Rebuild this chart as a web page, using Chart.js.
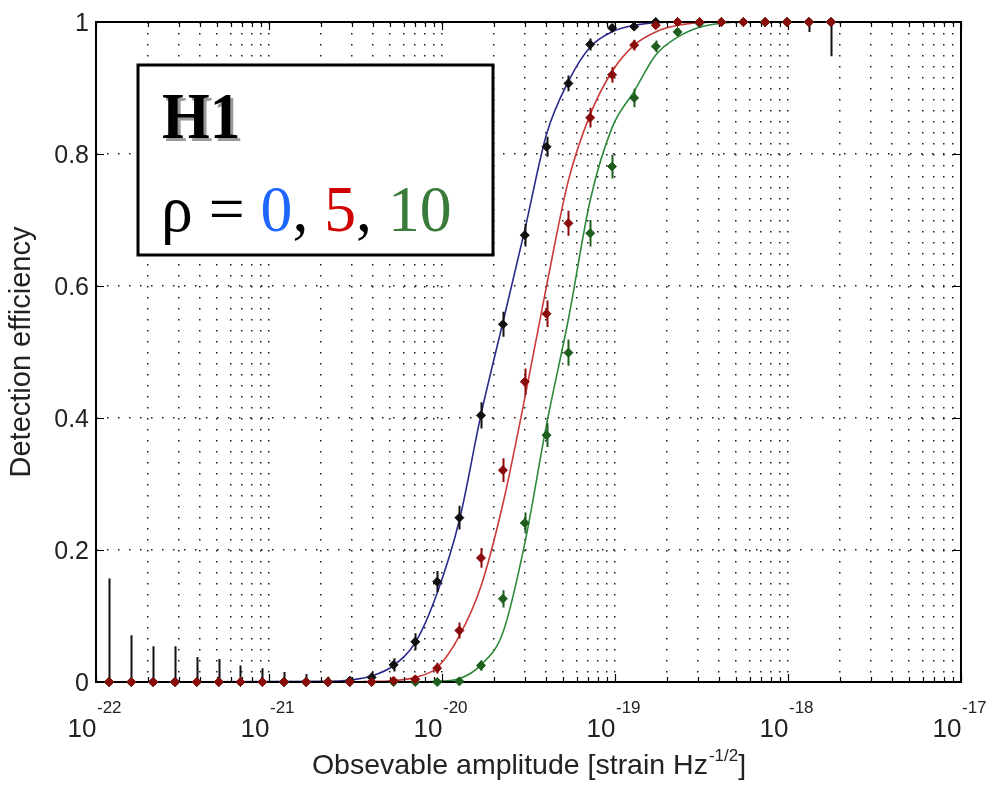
<!DOCTYPE html>
<html><head><meta charset="utf-8">
<script src="https://cdn.jsdelivr.net/npm/chart.js@4.4.0/dist/chart.umd.min.js"></script>
<style>html,body{margin:0;padding:0;background:#fff;}#wrap{width:993px;height:787px;}</style>
</head><body><div id="wrap"><canvas id="c" width="993" height="787"></canvas></div>
<script>
// ---------------- data ----------------
const amplitudes = [1.19e-22,1.60e-22,2.14e-22,2.86e-22,3.82e-22,5.12e-22,6.84e-22,9.16e-22,1.22e-21,1.64e-21,
  2.19e-21,2.93e-21,3.92e-21,5.25e-21,7.01e-21,9.38e-21,1.26e-20,1.68e-20,2.25e-20,3.01e-20,
  4.02e-20,5.38e-20,7.19e-20,9.62e-20,1.29e-19,1.72e-19,2.30e-19,3.08e-19,4.12e-19,5.52e-19,
  7.38e-19,9.87e-19,1.32e-18,1.77e-18];
const effRho0 = [0,0,0,0,0,0,0,0,0,0,0,0.002,0.007,0.026,0.061,0.152,0.249,0.404,0.542,0.677,0.811,0.907,0.966,0.991,0.993,1,1,1,1,1,1,1,1,1];
const errRho0 = [0.157,0.071,0.054,0.054,0.038,0.035,0.025,0.021,0.015,0.012,0.008,0.006,0.008,0.01,0.013,0.016,0.018,0.02,0.019,0.017,0.015,0.012,0.009,0.006,0.004,0.002,0,0,0,0,0,0.007,0.015,0.052];
const effRho5 = [0,0,0,0,0,0,0,0,0,0,0,0,0,0.002,0.004,0.021,0.078,0.188,0.321,0.455,0.558,0.695,0.855,0.92,0.965,0.995,1,1,1,1,1,1,1,1];
const errRho5 = [0,0,0,0,0,0,0,0,0,0,0,0,0,0.002,0.004,0.008,0.012,0.015,0.018,0.02,0.02,0.019,0.015,0.012,0.008,0.004,0,0,0,0,0,0,0,0];
const effRho10 = [0,0,0,0,0,0,0,0,0,0,0,0,0,0,0,0,0.001,0.025,0.126,0.241,0.374,0.499,0.68,0.781,0.885,0.963,0.985,0.998,1,1,1,1,1,1];
const errRho10 = [0,0,0,0,0,0,0,0,0,0,0,0,0,0,0,0,0.002,0.008,0.013,0.016,0.018,0.02,0.02,0.018,0.014,0.009,0.005,0.002,0,0,0,0,0,0];

const fitAmplitudes = [1e-22,2.19e-21,2.93e-21,3.92e-21,5.25e-21,7.01e-21,9.38e-21,1.26e-20,1.68e-20,2.25e-20,3.01e-20,
  4.02e-20,5.38e-20,7.19e-20,9.62e-20,1.29e-19,1.72e-19,2.30e-19,3.08e-19,4.12e-19,5.52e-19,1e-17];
const fitRho0  = [0,0.001,0.003,0.009,0.025,0.06,0.135,0.245,0.405,0.545,0.685,0.83,0.91,0.962,0.985,0.995,0.999,1,1,1,1,1];
const fitRho5  = [0,0,0,0.001,0.002,0.007,0.022,0.07,0.145,0.27,0.43,0.6,0.76,0.86,0.925,0.965,0.985,0.995,0.999,1,1,1];
const fitRho10 = [0,0,0,0,0,0,0.001,0.005,0.026,0.075,0.21,0.39,0.55,0.73,0.84,0.895,0.95,0.977,0.992,0.998,1,1];

const xDecades = [1e-22,1e-21,1e-20,1e-19,1e-18,1e-17];
const xDecadeLabels = ['10','10','10','10','10','10'];
const xDecadeExponents = ['-22','-21','-20','-19','-18','-17'];
const xMinorMultipliers = [2,3,4,5,6,7,8,9];
const yTicks = [0,0.2,0.4,0.6,0.8,1];
const yTickLabels = ['0','0.2','0.4','0.6','0.8','1'];
const yTitle = 'Detection efficiency';
const xTitleMain = 'Obsevable amplitude [strain Hz';
const xTitleSup = '-1/2';
const xTitleEnd = ']';
const boxTitle = 'H1';
const boxPieces = [['ρ = ','#000'],['0','#1f66ff'],[', ','#000'],['5','#d00000'],[', ','#000'],['10','#3a7a3a']];

// ---------------- helpers ----------------
const pts = (xs, ys) => xs.map((x, i) => ({x: x, y: ys[i]}));
const xGridValues = [];
xDecades.forEach((d, k) => {
  xGridValues.push({value: d, major: true});
  if (k < xDecades.length - 1) xMinorMultipliers.forEach(m => xGridValues.push({value: d * m, major: false}));
});
const SANS = '"Liberation Sans", Arial, Helvetica, sans-serif';
const SERIF = '"Liberation Serif", "Times New Roman", serif';

function drawFrame(chart) {
  const {ctx, chartArea: a, scales: {x, y}} = chart;
  ctx.save();
  ctx.strokeStyle = '#000';
  ctx.lineWidth = 1.2;
  ctx.beginPath();
  x.ticks.forEach(t => {
    const px = Math.round(x.getPixelForValue(t.value)) + 0.5;
    const len = t.major ? 8 : 5;
    ctx.moveTo(px, a.bottom); ctx.lineTo(px, a.bottom - len);
    ctx.moveTo(px, a.top); ctx.lineTo(px, a.top + len);
  });
  y.ticks.forEach(t => {
    const py = Math.round(y.getPixelForValue(t.value)) + 0.5;
    ctx.moveTo(a.left, py); ctx.lineTo(a.left + 8, py);
    ctx.moveTo(a.right, py); ctx.lineTo(a.right - 8, py);
  });
  ctx.stroke();
  ctx.lineWidth = 2;
  ctx.strokeRect(a.left, a.top, a.right - a.left, a.bottom - a.top);
  ctx.restore();
}

const framePlugin = {
  id: 'frame',
  afterDatasetDraw(chart, args) {
    const ds = chart.data.datasets[args.index];
    if (ds.frameAfter) drawFrame(chart);
    if (!ds.errors) return;
    const {ctx, scales: {x, y}} = chart;
    ctx.save();
    ctx.strokeStyle = ds.borderColor;
    ctx.lineWidth = 2;
    ctx.beginPath();
    ds.data.forEach((p, i) => {
      const e = ds.errors[i];
      if (!e) return;
      const px = Math.round(x.getPixelForValue(p.x)) + 0.5;
      ctx.moveTo(px, y.getPixelForValue(Math.max(0, p.y - e)));
      ctx.lineTo(px, y.getPixelForValue(Math.min(1, p.y + e)));
    });
    ctx.stroke();
    ctx.restore();
  },
  afterDraw(chart) {
    const {ctx, chartArea: a, scales: {x}} = chart;
    ctx.save();
    // decade exponents
    ctx.fillStyle = '#222';
    ctx.font = '17px ' + SANS;
    ctx.textAlign = 'left';
    ctx.textBaseline = 'alphabetic';
    xDecades.forEach((d, k) => {
      ctx.fillText(xDecadeExponents[k], x.getPixelForValue(d) + 1, 713);
    });
    // x title with superscript
    const big = '28.5px ' + SANS, small = '17px ' + SANS;
    ctx.font = big;
    const w1 = ctx.measureText(xTitleMain).width;
    const w3 = ctx.measureText(xTitleEnd).width;
    ctx.font = small;
    const w2 = ctx.measureText(xTitleSup).width;
    let tx = (a.left + a.right) / 2 - (w1 + w2 + w3) / 2;
    ctx.font = big;
    ctx.fillText(xTitleMain, tx, 774);
    ctx.font = small;
    ctx.fillText(xTitleSup, tx + w1 + 1, 761);
    ctx.font = big;
    ctx.fillText(xTitleEnd, tx + w1 + w2 + 1, 774);
    // annotation box
    ctx.fillStyle = '#fff';
    ctx.fillRect(138, 65, 355, 190);
    ctx.strokeStyle = '#000';
    ctx.lineWidth = 3;
    ctx.strokeRect(138, 65, 355, 190);
    ctx.font = 'bold 66px ' + SERIF;
    const hx = 0.93;
    ctx.save(); ctx.translate(165, 141); ctx.scale(hx, 1); ctx.fillStyle = '#9a9a9a'; ctx.fillText(boxTitle, 0, 0); ctx.restore();
    ctx.save(); ctx.translate(162, 138); ctx.scale(hx, 1); ctx.fillStyle = '#000'; ctx.fillText(boxTitle, 0, 0); ctx.restore();
    const sx = 0.98;
    ctx.font = '65px ' + SERIF;
    let bx = 161;
    boxPieces.forEach(([t, c]) => {
      ctx.save(); ctx.translate(bx, 231); ctx.scale(sx, 1); ctx.fillStyle = c; ctx.fillText(t, 0, 0); ctx.restore();
      bx += ctx.measureText(t).width * sx;
    });
    ctx.restore();
  }
};

const dotted = {color: '#1a1a1a', lineWidth: 1.5, drawTicks: true, tickLength: 30, tickColor: 'rgba(0,0,0,0)'};

new Chart(document.getElementById('c'), {
  type: 'line',
  data: {
    datasets: [
      {label: 'ρ=5 data', data: pts(amplitudes, effRho5), errors: errRho5, showLine: false, borderColor: '#8b0a0a', backgroundColor: '#8b0a0a', pointStyle: 'rectRot', pointRadius: 4.5, pointBorderWidth: 1, clip: false, order: 1},
      {label: 'ρ=10 data', data: pts(amplitudes, effRho10), errors: errRho10, showLine: false, borderColor: '#1e5e1e', backgroundColor: '#1e5e1e', pointStyle: 'rectRot', pointRadius: 4.5, pointBorderWidth: 1, clip: false, order: 2},
      {label: 'ρ=0 data', data: pts(amplitudes, effRho0), errors: errRho0, showLine: false, borderColor: '#111111', backgroundColor: '#111111', pointStyle: 'rectRot', pointRadius: 4.5, pointBorderWidth: 1, clip: false, order: 3},
      {label: 'ρ=5 fit', data: pts(fitAmplitudes, fitRho5), borderColor: '#cc3b3b', borderWidth: 1.6, pointRadius: 0, cubicInterpolationMode: 'monotone', order: 4, frameAfter: true},
      {label: 'ρ=10 fit', data: pts(fitAmplitudes, fitRho10), borderColor: '#2e8a3a', borderWidth: 1.6, pointRadius: 0, cubicInterpolationMode: 'monotone', order: 5},
      {label: 'ρ=0 fit', data: pts(fitAmplitudes, fitRho0), borderColor: '#2b2b8c', borderWidth: 1.6, pointRadius: 0, cubicInterpolationMode: 'monotone', order: 6}
    ]
  },
  options: {
    responsive: false,
    devicePixelRatio: 1,
    animation: false,
    layout: {padding: {top: 17, right: 32, left: 0, bottom: 0}},
    plugins: {legend: {display: false}, tooltip: {enabled: false}},
    scales: {
      x: {
        type: 'logarithmic', min: 1e-22, max: 1e-17,
        afterBuildTicks: s => { s.ticks = xGridValues.map(t => ({value: t.value, major: t.major})); },
        afterFit: s => { s.height = 105; },
        grid: dotted,
        border: {display: false, dash: [1.5, 9.5]},
        ticks: {
          autoSkip: false, maxRotation: 0, minRotation: 0, padding: 2, labelOffset: -14,
          color: '#222', font: {family: SANS, size: 26},
          callback: (v, i, ticks) => { const k = xDecades.findIndex(d => Math.abs(Math.log10(d) - Math.log10(ticks[i].value)) < 1e-6); return k >= 0 ? xDecadeLabels[k] : ''; }
        }
      },
      y: {
        type: 'linear', min: 0, max: 1,
        afterBuildTicks: s => { s.ticks = yTicks.map(v => ({value: v})); },
        afterFit: s => { s.width = 96; },
        grid: {color: '#1a1a1a', lineWidth: 1.5, drawTicks: false},
        border: {display: false, dash: [1.5, 9.5]},
        ticks: {
          padding: 7, labelOffset: 2, color: '#222', font: {family: SANS, size: 25},
          callback: (v, i) => yTickLabels[i]
        },
        title: {display: true, text: yTitle, color: '#222', font: {family: SANS, size: 29}, padding: {top: 5, bottom: 0}}
      }
    }
  },
  plugins: [framePlugin]
});
</script>
</body></html>
